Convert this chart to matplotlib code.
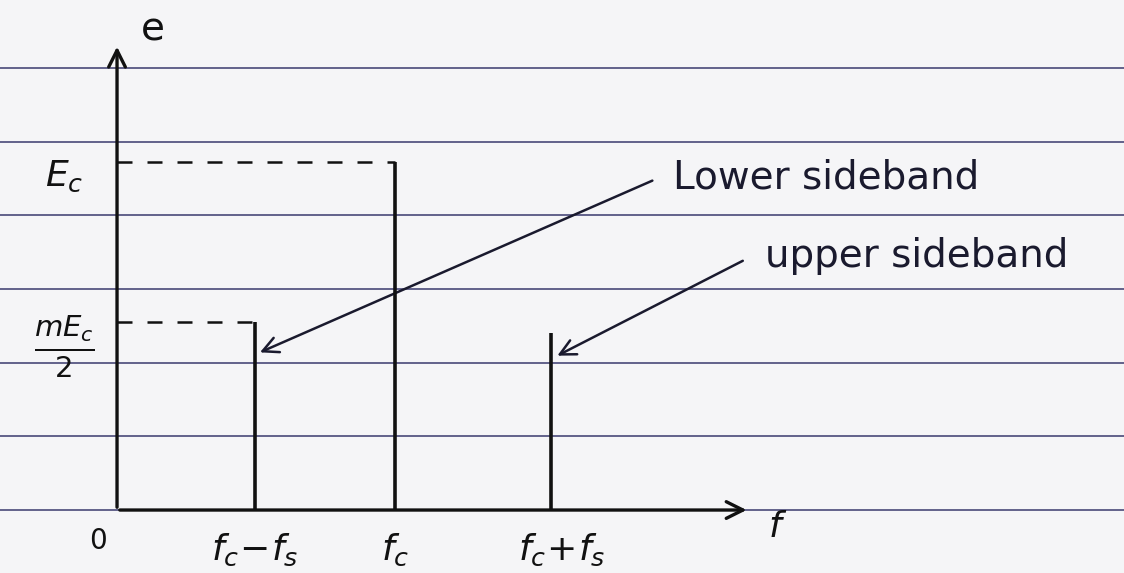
import matplotlib.pyplot as plt
from matplotlib.patches import FancyArrowPatch

# spectrum of an AM wave (Ec = 1)
freqs = [0.99, 2.0, 3.12]            # fc-fs, fc, fc+fs
amps = [0.54, 1.0, 0.51]
freq_labels = [r'$f_c\!-\!f_s$', r'$f_c$', r'$f_c\!+\!f_s$']
Ec = 1.0
mEc_2 = 0.54

plt.rcParams['font.family'] = ['DejaVu Sans']
plt.rcParams['mathtext.fontset'] = 'dejavusans'

fig = plt.figure(figsize=(11.24, 5.73), dpi=100, facecolor='#f5f5f7')
ax = fig.add_axes([0, 0, 1, 1])
ax.set_facecolor('#f5f5f7')
ax.set_xlim(-0.842, 7.245)
ax.set_ylim(-0.181, 1.466)
ax.axis('off')

# ruled paper lines
for k in range(7):
    ax.axhline(k * 0.2118, color='#3b3b6e', lw=1.3, alpha=0.85, zorder=0)

ink = '#111111'
# axes with arrows
ax.annotate('', xy=(0, 1.34), xytext=(0, 0),
            arrowprops=dict(arrowstyle='->', lw=2.4, color=ink, mutation_scale=30))
ax.annotate('', xy=(4.55, 0), xytext=(0, 0),
            arrowprops=dict(arrowstyle='->', lw=2.4, color=ink, mutation_scale=30))

# spectral lines
for f, a in zip(freqs, amps):
    ax.plot([f, f], [0, a], color=ink, lw=2.6, solid_capstyle='butt')

# dashed guides
ax.plot([0, freqs[1]], [Ec, Ec], color=ink, lw=1.8, dashes=(6, 6))
ax.plot([0, freqs[0]], [mEc_2, mEc_2], color=ink, lw=1.8, dashes=(6, 6))

# labels
fs = 26
ax.text(0.17, 1.38, 'e', fontsize=fs + 2, ha='left', va='center', color=ink)
ax.text(-0.38, Ec - 0.04, r'$E_c$', fontsize=fs, ha='center', va='center', color=ink)
ax.text(-0.38, mEc_2 - 0.07, r'$\frac{mE_c}{2}$', fontsize=fs + 4, ha='center', va='center', color=ink)
ax.text(-0.14, -0.09, '0', fontsize=fs - 6, ha='center', va='center', color=ink)
for f, lab in zip(freqs, freq_labels):
    ax.text(f + (0.08 if f > 3 else 0), -0.115, lab, fontsize=fs, ha='center', va='center', color=ink)
ax.text(4.75, -0.05, r'$f$', fontsize=fs, ha='center', va='center', color=ink)

ax.text(4.0, 0.955, 'Lower sideband', fontsize=fs + 2, ha='left', va='center', color='#1a1a2e')
ax.text(4.66, 0.73, 'upper sideband', fontsize=fs + 2, ha='left', va='center', color='#1a1a2e')

# pointer arrows
for start, end in [((3.87, 0.95), (freqs[0] + 0.02, 0.45)),
                   ((4.52, 0.72), (freqs[2] + 0.03, 0.44))]:
    ax.add_patch(FancyArrowPatch(start, end, arrowstyle='->', mutation_scale=28,
                                 lw=1.8, color='#1a1a2e'))

fig.savefig('out.png', dpi=100, facecolor=fig.get_facecolor())
